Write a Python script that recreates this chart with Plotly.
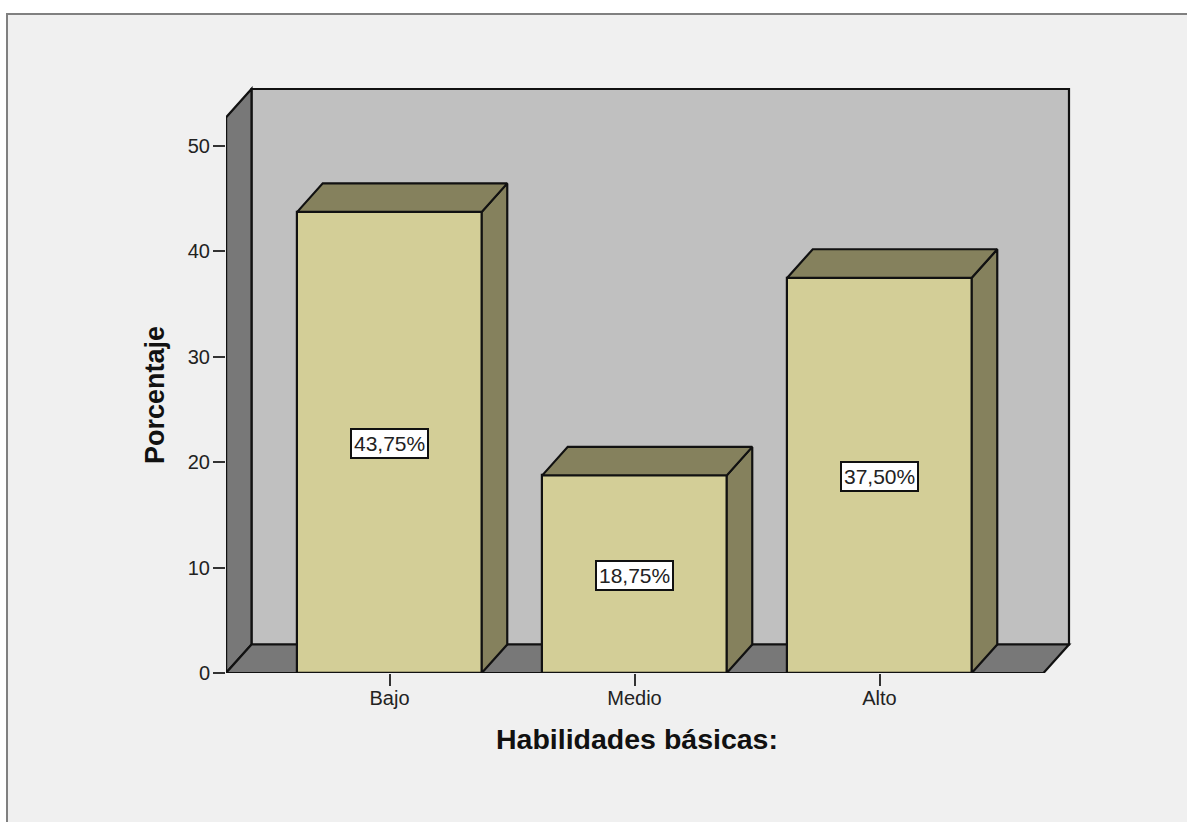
import plotly.graph_objects as go

categories = ["Bajo", "Medio", "Alto"]
values = [43.75, 18.75, 37.50]
labels = ["43,75%", "18,75%", "37,50%"]
y_ticks = [0, 10, 20, 30, 40, 50]

W, H = 1187, 822
L, R, T, B = 226, 1074, 84, 673        # plot rectangle, pixels
CAT0, CAT_STEP = 389.5, 245.0          # first category centre, pixels per category
Y_UNIT = 10.54                         # pixels per percent

def xv(p): return (p - CAT0) / CAT_STEP
def yv(p): return (B - p) / Y_UNIT
def xp(p): return (p - L) / (R - L)
def yp(p): return (B - p) / (B - T)

BAR_W = 184.5 / CAT_STEP
DX = 25.5 / CAT_STEP
DY = 28.5 / Y_UNIT
x_lo, x_hi = xv(L), xv(1043.5)
y_hi = yv(117.5)

EDGE = "#111111"
FRONT, SHADE = "#d3ce97", "#85815d"
WALL, SIDE = "#c0c0c0", "#787878"
PANEL = "#f0f0f0"

def poly(pts):
    return "M " + " L ".join(f"{a},{b}" for a, b in pts) + " Z"

line = dict(color=EDGE, width=2.2)
shapes = [
    dict(type="rect", xref="paper", yref="paper",
         x0=xp(7), x1=xp(W + 20), y0=yp(H + 20), y1=yp(14),
         fillcolor=PANEL, line=dict(color="#808080", width=2), layer="below"),
    dict(type="path", xref="x", yref="y", layer="below", line=line, fillcolor=WALL,
         path=poly([(x_lo + DX, DY), (x_hi + DX, DY), (x_hi + DX, y_hi + DY), (x_lo + DX, y_hi + DY)])),
    dict(type="path", xref="x", yref="y", layer="below", line=line, fillcolor=SIDE,
         path=poly([(x_lo, 0), (x_lo + DX, DY), (x_lo + DX, y_hi + DY), (x_lo, y_hi)])),
    dict(type="path", xref="x", yref="y", layer="below", line=line, fillcolor=SIDE,
         path=poly([(x_lo, 0), (x_hi, 0), (x_hi + DX, DY), (x_lo + DX, DY)])),
]

fig = go.Figure()
xs = list(range(len(categories)))
fig.add_trace(go.Bar(x=xs, y=values, width=BAR_W, marker=dict(color=FRONT, line=line),
                     hoverinfo="skip", showlegend=False))

for i, v in zip(xs, values):
    a, b = i - BAR_W / 2, i + BAR_W / 2
    fig.add_trace(go.Scatter(x=[b, b + DX, b + DX, b, b], y=[0, DY, v + DY, v, 0], mode="lines",
                             fill="toself", fillcolor=SHADE, line=line, hoverinfo="skip", showlegend=False))
    fig.add_trace(go.Scatter(x=[a, b, b + DX, a + DX, a], y=[v, v, v + DY, v + DY, v], mode="lines",
                             fill="toself", fillcolor=SHADE, line=line, hoverinfo="skip", showlegend=False))

# Front edges of the floor and left wall, drawn unclipped over the axis edge
fig.add_trace(go.Scatter(x=[x_lo, x_lo, x_hi], y=[y_hi, 0, 0], mode="lines", line=line,
                         cliponaxis=False, hoverinfo="skip", showlegend=False))

annotations = [
    dict(x=i, y=v / 2, text=t, xref="x", yref="y", yshift=-1, showarrow=False, bgcolor="white",
         bordercolor=EDGE, borderwidth=2, borderpad=2,
         font=dict(family="Liberation Sans", size=21, color="#222222"))
    for i, v, t in zip(xs, values, labels)
]
TITLE_FONT = dict(family="Liberation Sans", size=27, color="#111111")
annotations += [
    dict(x=xv(636.5), y=yp(739.5), xref="x", yref="paper", text="<b>Habilidades básicas:</b>",
         xanchor="center", yanchor="middle", showarrow=False,
         font=dict(family="Liberation Sans", size=28.5, color="#111111")),
    dict(x=xp(155), y=yv(395), xref="paper", yref="y", text="<b>Porcentaje</b>",
         xanchor="center", yanchor="middle", textangle=-90, showarrow=False, font=TITLE_FONT),
]

TICK_FONT = dict(family="Liberation Sans", size=20, color="#222222")
fig.update_layout(
    width=W, height=H, autosize=False, paper_bgcolor="white", plot_bgcolor="rgba(0,0,0,0)",
    margin=dict(l=L, r=W - R, t=T, b=H - B, pad=0), shapes=shapes, annotations=annotations,
    showlegend=False, bargap=0,
    xaxis=dict(range=[xv(L), xv(R)], tickmode="array", tickvals=xs, ticktext=categories,
               ticks="outside", ticklen=12, tickwidth=2, tickcolor="#333333", showgrid=False,
               zeroline=False, showline=False, tickfont=TICK_FONT, ticklabelstandoff=-5),
    yaxis=dict(range=[0, yv(T)], tickmode="array", tickvals=y_ticks,
               ticks="outside", ticklen=12, tickwidth=2, tickcolor="#333333", showgrid=False,
               zeroline=False, showline=False, tickfont=TICK_FONT, ticklabelstandoff=-1),
)

fig.write_html("out.html", config=dict(displayModeBar=False),
               post_script="document.body.style.margin='0';document.body.style.overflow='hidden';")
